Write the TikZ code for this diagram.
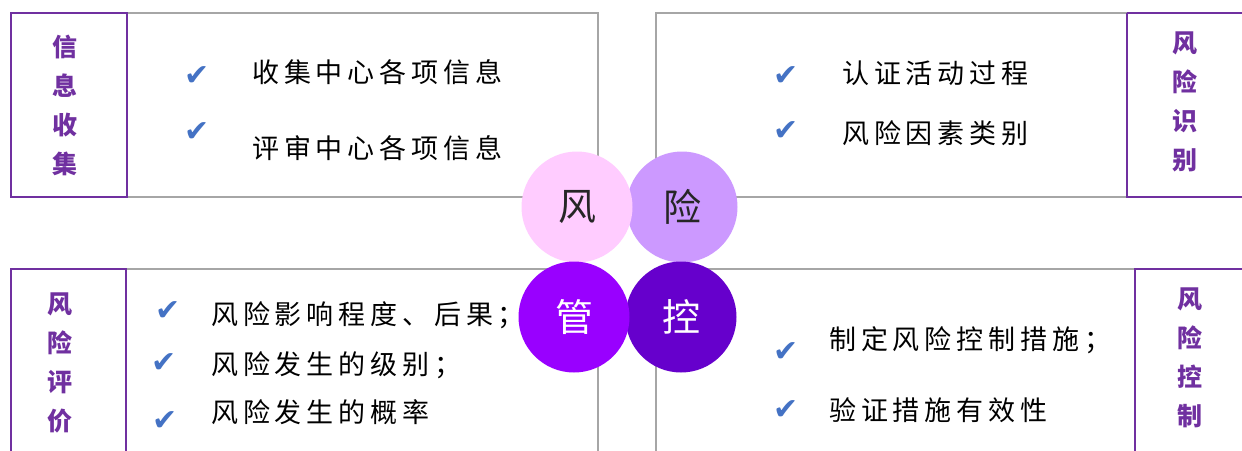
\documentclass[tikz,border=0pt]{standalone}
\usepackage{fontspec}
\newfontfamily\cjk{Noto Sans CJK SC}
\newfontfamily\cjksp[LetterSpace=18]{Noto Sans CJK SC}
\newfontfamily\dejavu{DejaVu Sans}
\definecolor{lineGray}{HTML}{A6A6A6}
\definecolor{labPurple}{HTML}{7030A0}
\definecolor{chkBlue}{HTML}{4472C4}
\definecolor{cA}{HTML}{FFCCFF}
\definecolor{cB}{HTML}{CC99FF}
\definecolor{cC}{HTML}{9900FF}
\definecolor{cD}{HTML}{6600CC}
\definecolor{txtDark}{HTML}{262626}
\tikzset{
  graybox/.style={draw=lineGray,line width=2.5pt},
  purplebox/.style={draw=labPurple,line width=2.5pt},
  labeltxt/.style={text=labPurple,font=\cjk\bfseries\fontsize{25}{39}\selectfont,align=center,inner sep=0pt},
  itemtxt/.style={anchor=west,font=\cjksp\fontsize{27}{30}\selectfont,inner sep=0pt,text=black},
  chk/.style={text=chkBlue,font=\dejavu\fontsize{30}{30}\selectfont,inner sep=0pt},
  bigcirc/.style={circle,minimum size=111pt,inner sep=0pt,font=\cjk\fontsize{38}{38}\selectfont}
}
\begin{document}
\begin{tikzpicture}[x=1pt,y=-1pt]
\useasboundingbox (0,0) rectangle (1242,450);
\fill[white] (0,0) rectangle (1242,450);
% top-left
\draw[graybox] (127,13) -- (598,13) -- (598,197) -- (127,197);
\draw[purplebox] (11,13) rectangle (127,197);
\node[labeltxt] (l1) at (65,105) {信\\息\\收\\集};
\node[chk] (c11) at (197,76) {✔};
\node[chk] (c12) at (197,132) {✔};
\node[itemtxt] (t11) at (252,72) {收集中心各项信息};
\node[itemtxt] (t12) at (252,148) {评审中心各项信息};
% top-right
\draw[graybox] (1127,13) -- (656,13) -- (656,197) -- (1127,197);
\draw[purplebox] (1127,13) -- (1244,13) (1127,13) -- (1127,197) -- (1244,197);
\node[labeltxt] (l2) at (1185,102) {风\\险\\识\\别};
\node[chk] (c21) at (786,76) {✔};
\node[chk] (c22) at (786,131) {✔};
\node[itemtxt] (t21) at (842,73) {认证活动过程};
\node[itemtxt] (t22) at (842,133) {风险因素类别};
% bottom-left
\draw[graybox] (126,269) -- (598,269) -- (598,452);
\draw[purplebox] (11,452) -- (11,269) -- (126,269) -- (126,452);
\node[labeltxt] (l3) at (60,363) {风\\险\\评\\价};
\node[chk] (c31) at (168,311) {✔};
\node[chk] (c32) at (164,363) {✔};
\node[chk] (c33) at (165,421) {✔};
\node[itemtxt] (t31) at (211,315) {风险影响程度、后果；};
\node[itemtxt] (t32) at (211,365) {风险发生的级别；};
\node[itemtxt] (t33) at (211,412) {风险发生的概率};
% bottom-right
\draw[graybox] (656,452) -- (656,269) -- (1135,269);
\draw[purplebox] (1135,452) -- (1135,269) -- (1244,269);
\node[labeltxt] (l4) at (1190,358) {风\\险\\控\\制};
\node[chk] (c41) at (786,352) {✔};
\node[chk] (c42) at (786,410) {✔};
\node[itemtxt] (t41) at (829,340) {制定风险控制措施；};
\node[itemtxt] (t42) at (829,410) {验证措施有效性};
% circles
\node[bigcirc,fill=cB,text=txtDark] (b) at (682,207) {险};
\node[bigcirc,fill=cA,text=txtDark] (a) at (577,207) {风};
\node[bigcirc,fill=cD,text=white] (d) at (681,317) {控};
\node[bigcirc,fill=cC,text=white] (c) at (574,317) {管};
\end{tikzpicture}
\end{document}
